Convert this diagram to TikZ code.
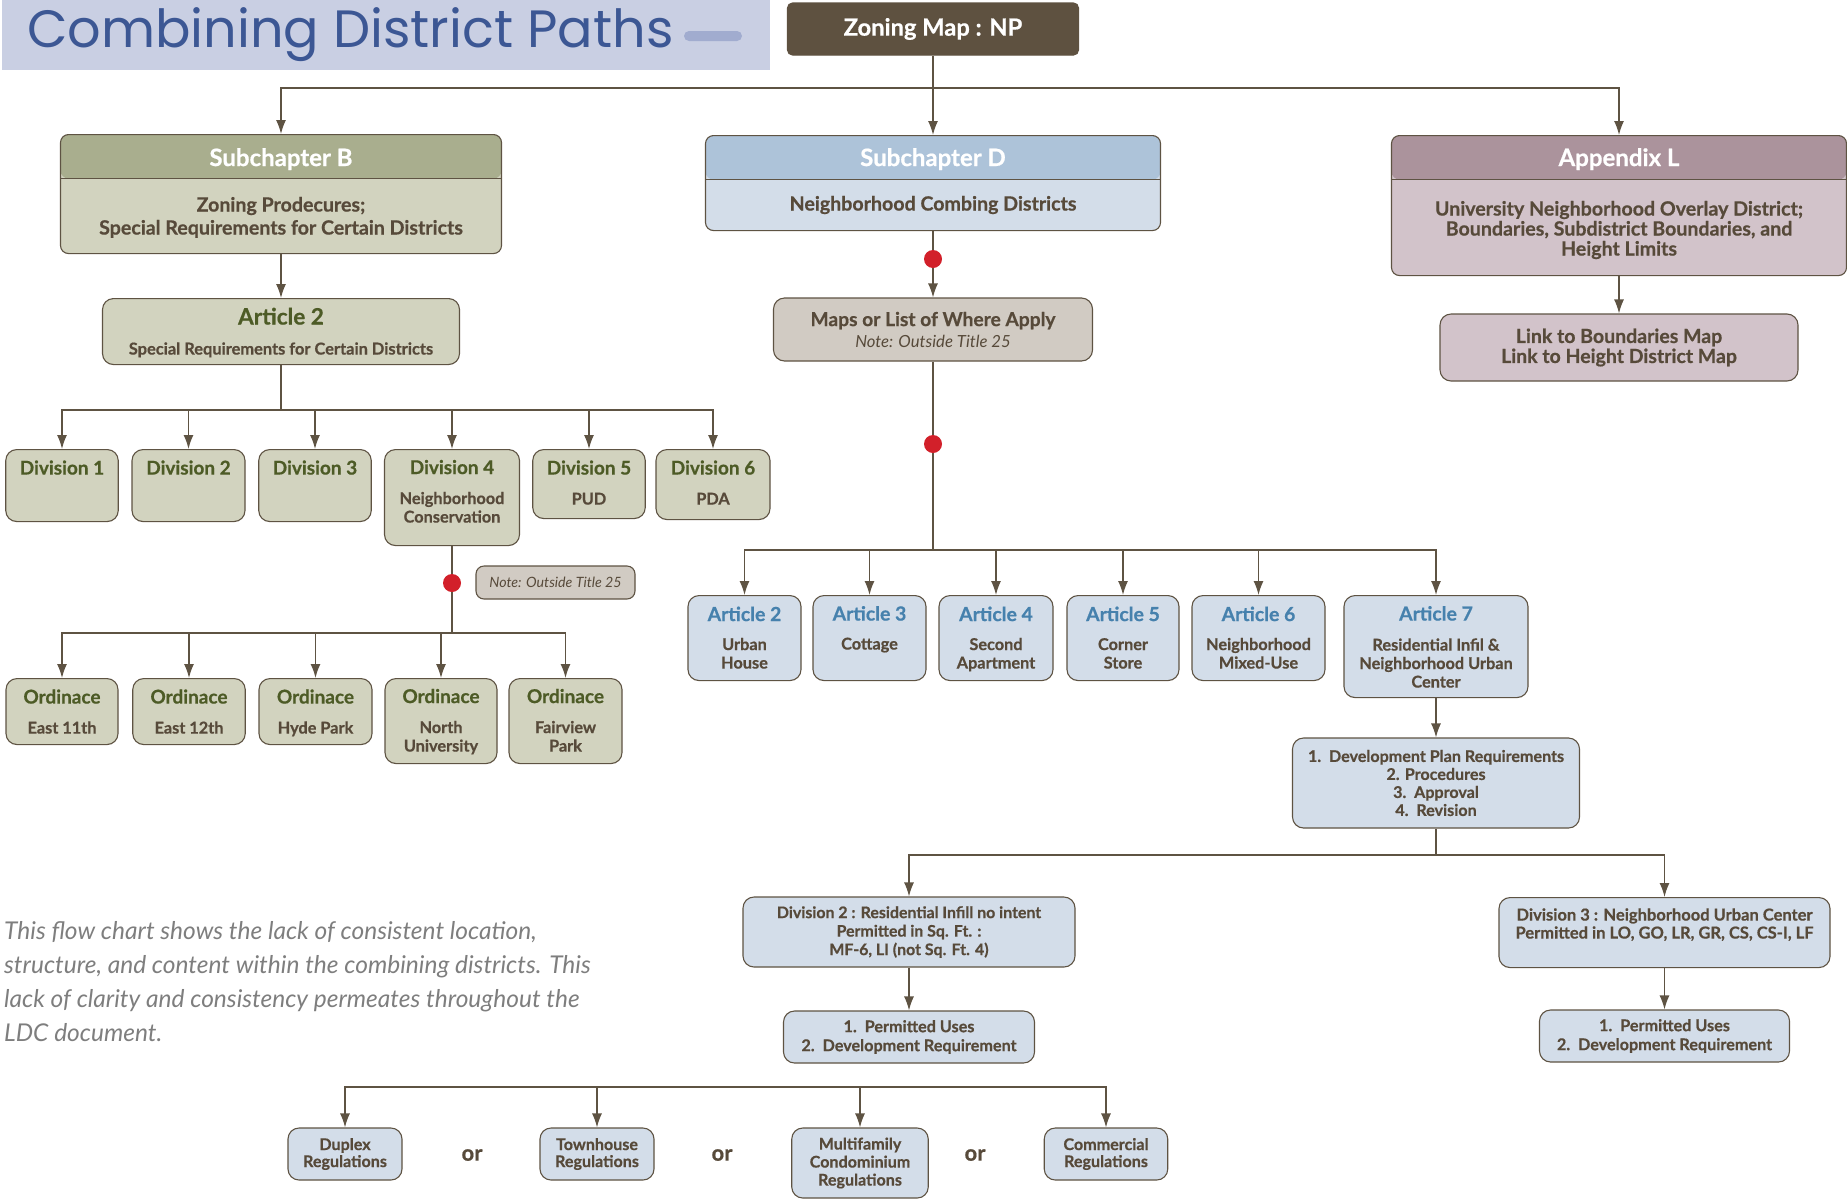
\documentclass[tikz,border=0pt]{standalone}
\usepackage{fontspec}
\setmainfont{Lato}[BoldFeatures={FakeBold=0.6}]
\newfontfamily\titlefont{Poppins}
\usetikzlibrary{arrows.meta}

\definecolor{band}{HTML}{C9CFE3}
\definecolor{titleblue}{HTML}{3C5794}
\definecolor{bandbar}{HTML}{A1ACCF}
\definecolor{zonec}{HTML}{5E5140}
\definecolor{linec}{HTML}{5E5343}
\definecolor{txtc}{HTML}{574A3A}
\definecolor{olvhead}{HTML}{A9AE8E}
\definecolor{olvbody}{HTML}{D2D3BF}
\definecolor{olvtxt}{HTML}{4D5B26}
\definecolor{bluhead}{HTML}{ADC3D9}
\definecolor{blubody}{HTML}{D3DDE9}
\definecolor{blutxt}{HTML}{4681AD}
\definecolor{mvhead}{HTML}{AB939C}
\definecolor{mvbody}{HTML}{D2C3CA}
\definecolor{notec}{HTML}{D1CBC3}
\definecolor{dotc}{HTML}{D2202A}
\definecolor{grayc}{HTML}{7E7E7E}

\newcommand{\ttlo}{\color{olvtxt}\fontsize{19}{20}\selectfont}
\newcommand{\ttlb}{\color{blutxt}\fontsize{19.4}{20}\selectfont}
\newcommand{\hdtxt}{\color{white}\fontsize{24}{26}\selectfont}

\tikzset{
  conn/.style={draw=linec, line width=1.4pt},
  arr/.style={conn, -{Latex[length=14pt,width=10pt]}},
  box/.style={draw=linec, line width=1.1pt, rounded corners=11pt, align=center, text=txtc, inner sep=0pt, font=\bfseries\fontsize{16.3}{18.5}\selectfont},
  tbox/.style={box, anchor=north},
  hdr/.style 2 args={box, anchor=north, fill=#2, rounded corners=8pt, font=\bfseries\fontsize{19.6}{23}\selectfont,
    path picture={\fill[#1] (path picture bounding box.north west) rectangle ([yshift=-44pt]path picture bounding box.north east);
      \draw[linec, line width=1.1pt] ([yshift=-44pt]path picture bounding box.north west) -- ([yshift=-44pt]path picture bounding box.north east);}},
  dot/.style={circle, fill=dotc, minimum size=18pt, inner sep=0pt},
  ortxt/.style={text=txtc, font=\bfseries\fontsize{22}{24}\selectfont, inner sep=0pt}
}

\begin{document}
\begin{tikzpicture}[x=1pt, y=-1pt]
\useasboundingbox (0,0) rectangle (1847,1200);

\fill[band] (2,0) rectangle (770,70);
\node[anchor=base west, inner sep=0pt, text=titleblue, font=\titlefont\fontsize{52.5}{52}\selectfont] (title) at (27,47) {Combining District Paths};
\fill[bandbar, rounded corners=5pt] (684,31) rectangle (742,41);

\node[box, fill=zonec, draw=zonec, rounded corners=5pt, text=white, minimum width=291pt, minimum height=52pt, font=\bfseries\fontsize{23.7}{26}\selectfont] (zmap) at (933,29) {Zoning Map : NP};

\node[hdr={olvhead}{olvbody}, minimum width=441pt, text height=100pt, text depth=19pt] (subB) at (281,134) {{\hdtxt Subchapter B}\\[22.5pt] Zoning Prodecures;\\ Special Requirements for Certain Districts};
\node[hdr={bluhead}{blubody}, minimum width=455pt, text height=75pt, text depth=20pt] (subD) at (933,135) {{\hdtxt Subchapter D}\\[21.5pt] Neighborhood Combing Districts};
\node[hdr={mvhead}{mvbody}, minimum width=455pt, text height=120pt, text depth=20pt, font=\bfseries\fontsize{19.6}{20}\selectfont] (appL) at (1619,135) {{\hdtxt Appendix L}\\[29.5pt] University Neighborhood Overlay District;\\ Boundaries, Subdistrict Boundaries, and\\ Height Limits};
\node[box, fill=mvbody, minimum width=358pt, minimum height=67pt, font=\bfseries\fontsize{19.5}{20}\selectfont] (link) at (1619,347.5) {Link to Boundaries Map\\ Link to Height District Map};

\node[tbox, fill=olvbody, minimum width=357pt, text height=56pt, text depth=10pt] (art2b) at (281,298) {{\color{olvtxt}\fontsize{22.6}{22}\selectfont Article 2}\\[11.5pt] {\fontsize{16.4}{18}\selectfont Special Requirements for Certain Districts}};
\node[box, fill=notec, minimum width=319pt, minimum height=63pt, font=\bfseries\fontsize{19.2}{21}\selectfont] (maps) at (933,329.5) {Maps or List of Where Apply\\ {\mdseries\itshape\fontsize{16.7}{18}\selectfont Note: Outside Title 25}};

\node[dot] (dot1) at (933,259) {};
\node[dot] (dot2) at (933,444) {};
\node[dot] (dot3) at (452,583) {};
\node[box, fill=notec, rounded corners=8pt, minimum width=159pt, minimum height=33pt, font=\mdseries\itshape\fontsize{14.2}{15}\selectfont] (note) at (555.5,582.5) {Note: Outside Title 25};

\node[tbox, fill=olvbody, minimum width=112.5pt, text height=25pt, text depth=47pt] (d1) at (62,449) {\ttlo Division 1};
\node[tbox, fill=olvbody, minimum width=113pt, text height=25pt, text depth=47pt] (d2) at (188.5,449) {\ttlo Division 2};
\node[tbox, fill=olvbody, minimum width=112.5pt, text height=25pt, text depth=47pt] (d3) at (315,449) {\ttlo Division 3};
\node[tbox, fill=olvbody, minimum width=135pt, text height=73pt, text depth=23pt] (d4) at (452,449) {{\ttlo Division 4}\\[11.5pt] Neighborhood\\ Conservation};
\node[tbox, fill=olvbody, minimum width=112.5pt, text height=55pt, text depth=14pt] (d5) at (589,449) {{\ttlo Division 5}\\[11.5pt] PUD};
\node[tbox, fill=olvbody, minimum width=114pt, text height=55pt, text depth=15pt] (d6) at (713,449) {{\ttlo Division 6}\\[11.5pt] PDA};

\node[tbox, fill=olvbody, minimum width=112pt, text height=55pt, text depth=11pt] (o1) at (62,678) {{\ttlo Ordinace}\\[11.5pt] East 11th};
\node[tbox, fill=olvbody, minimum width=112.5pt, text height=55pt, text depth=11pt] (o2) at (189,678) {{\ttlo Ordinace}\\[11.5pt] East 12th};
\node[tbox, fill=olvbody, minimum width=113pt, text height=55pt, text depth=11pt] (o3) at (315.5,678) {{\ttlo Ordinace}\\[11.5pt] Hyde Park};
\node[tbox, fill=olvbody, minimum width=112pt, text height=73pt, text depth=12pt] (o4) at (441,678) {{\ttlo Ordinace}\\[11.5pt] North\\ University};
\node[tbox, fill=olvbody, minimum width=113pt, text height=73pt, text depth=12pt] (o5) at (565.5,678) {{\ttlo Ordinace}\\[11.5pt] Fairview\\ Park};

\node[tbox, fill=blubody, minimum width=113pt, text height=73pt, text depth=12pt] (a2) at (744.5,595) {{\ttlb Article 2}\\[10.5pt] Urban\\ House};
\node[tbox, fill=blubody, minimum width=113pt, text height=54pt, text depth=31pt] (a3) at (869.5,595) {{\ttlb Article 3}\\[10.5pt] Cottage};
\node[tbox, fill=blubody, minimum width=114pt, text height=73pt, text depth=12pt] (a4) at (996,595) {{\ttlb Article 4}\\[10.5pt] Second\\ Apartment};
\node[tbox, fill=blubody, minimum width=112pt, text height=73pt, text depth=12pt] (a5) at (1123,595) {{\ttlb Article 5}\\[10.5pt] Corner\\ Store};
\node[tbox, fill=blubody, minimum width=133pt, text height=73pt, text depth=12pt] (a6) at (1258.5,595) {{\ttlb Article 6}\\[10.5pt] Neighborhood\\ Mixed-Use};
\node[tbox, fill=blubody, minimum width=184pt, text height=92pt, text depth=10pt] (a7) at (1436,595) {{\ttlb Article 7}\\[11.5pt] Residential Infil \&\\ Neighborhood Urban\\ Center};

\node[box, fill=blubody, minimum width=287pt, minimum height=90pt, font=\bfseries\fontsize{16.1}{18}\selectfont] (dev) at (1436,783) {1.\ \ Development Plan Requirements\\ 2. Procedures\\ 3.\ \ Approval\\ 4.\ \ Revision};
\node[box, fill=blubody, minimum width=332pt, minimum height=70pt, font=\bfseries\fontsize{15.9}{18.5}\selectfont] (dv2) at (909,932) {Division 2 : Residential Infill no intent\\ Permitted in Sq. Ft. :\\ MF-6, LI (not Sq. Ft. 4)};
\node[tbox, fill=blubody, minimum width=331pt, text height=41pt, text depth=29pt, font=\bfseries\fontsize{16.5}{18}\selectfont] (dv3) at (1664.5,897) {Division 3 : Neighborhood Urban Center\\ Permitted in LO, GO, LR, GR, CS, CS-I, LF};
\node[box, fill=blubody, minimum width=251pt, minimum height=52pt, font=\bfseries\fontsize{16.2}{19}\selectfont] (pu1) at (909,1037) {1.\ \ Permitted Uses\\ 2.\ \ Development Requirement};
\node[box, fill=blubody, minimum width=250pt, minimum height=52pt, font=\bfseries\fontsize{16.2}{19}\selectfont] (pu2) at (1664.5,1036) {1.\ \ Permitted Uses\\ 2.\ \ Development Requirement};

\node[box, fill=blubody, minimum width=114pt, minimum height=52pt, font=\bfseries\fontsize{16.1}{17}\selectfont] (dup) at (345,1154) {Duplex\\ Regulations};
\node[box, fill=blubody, minimum width=114pt, minimum height=52pt, font=\bfseries\fontsize{16.1}{17}\selectfont] (town) at (597,1154) {Townhouse\\ Regulations};
\node[box, fill=blubody, minimum width=136.5pt, minimum height=70pt, font=\bfseries\fontsize{16.1}{18}\selectfont] (multi) at (860,1163) {Multifamily\\ Condominium\\ Regulations};
\node[box, fill=blubody, minimum width=123.5pt, minimum height=52pt, font=\bfseries\fontsize{16.1}{17}\selectfont] (comm) at (1106,1154) {Commercial\\ Regulations};
\node[ortxt] (or1) at (472,1155) {or};
\node[ortxt] (or2) at (722,1155) {or};
\node[ortxt] (or3) at (975,1155) {or};

\node[anchor=base west, align=left, inner sep=0pt, text=grayc, font=\itshape\fontsize{24.5}{34}\selectfont] (caption) at (4,1041) {This flow chart shows the lack of consistent location,\\ structure, and content within the combining districts. This\\ lack of clarity and consistency permeates throughout the\\ LDC document.};

\coordinate (bus0) at (933,88);
\coordinate (bus1) at (281,410);
\coordinate (bus2) at (933,550);
\coordinate (bus3) at (452,633);
\coordinate (bus4) at (1436,855);
\coordinate (bus5) at (725,1087);

\draw[conn] (zmap.south) -- (bus0);
\draw[arr] (bus0) -| (subB.north);
\draw[arr] (bus0) -- (subD.north);
\draw[arr] (bus0) -| (appL.north);
\draw[arr] (appL.south) -- (link.north);
\draw[arr] (subB.south) -- (art2b.north);
\draw[conn] (art2b.south) -- (bus1);
\foreach \n in {d1,d2,d3,d4,d5,d6} \draw[arr] (bus1) -| (\n.north);
\draw[conn] (d4.south) -- (dot3);
\draw[conn] (dot3) -- (bus3);
\foreach \n in {o1,o2,o3,o4,o5} \draw[arr] (bus3) -| (\n.north);
\draw[conn] (subD.south) -- (dot1);
\draw[arr] (dot1) -- (maps.north);
\draw[conn] (maps.south) -- (dot2);
\draw[conn] (dot2) -- (bus2);
\foreach \n in {a2,a3,a4,a5,a6,a7} \draw[arr] (bus2) -| (\n.north);
\draw[arr] (a7.south) -- (dev.north);
\draw[conn] (dev.south) -- (bus4);
\draw[arr] (bus4) -| (dv2.north);
\draw[arr] (bus4) -| (dv3.north);
\draw[arr] (dv2.south) -- (pu1.north);
\draw[arr] (dv3.south) -- (pu2.north);
\foreach \n in {dup,town,multi,comm} \draw[arr] (bus5) -| (\n.north);
\end{tikzpicture}
\end{document}
